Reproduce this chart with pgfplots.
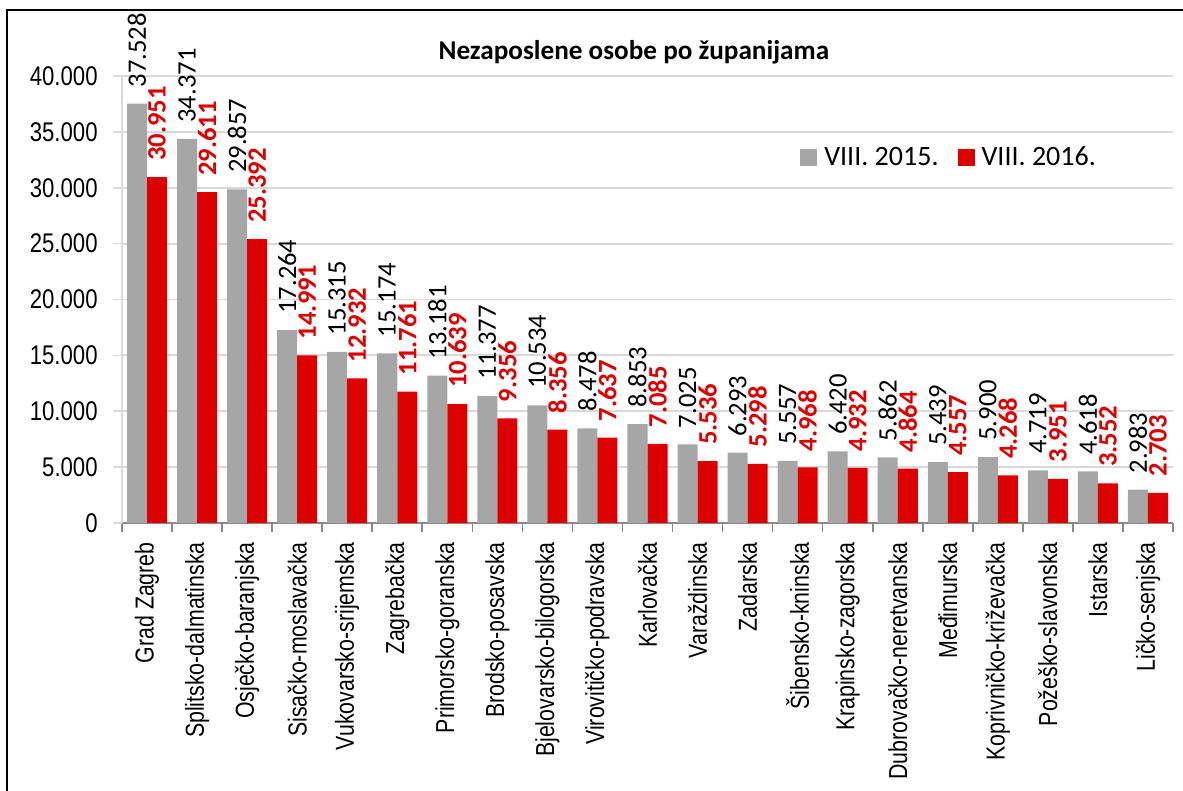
\documentclass[border=0pt]{standalone}
\usepackage{pgfplots}
\pgfplotsset{compat=1.18}
\usepackage{pgfplotstable}
\usepackage{fontspec}
\setmainfont{Carlito}
\newfontfamily\narrow[FakeStretch=0.82]{Liberation Sans}

\definecolor{sivo}{RGB}{166,166,166}
\definecolor{crveno}{RGB}{221,0,0}
\definecolor{mreza}{RGB}{217,217,217}
\definecolor{osx}{RGB}{137,137,137}

% VIII. 2015. (a) i VIII. 2016. (b)
\pgfplotstableread{
x a b
0 37528 30951
1 34371 29611
2 29857 25392
3 17264 14991
4 15315 12932
5 15174 11761
6 13181 10639
7 11377 9356
8 10534 8356
9 8478 7637
10 8853 7085
11 7025 5536
12 6293 5298
13 5557 4968
14 6420 4932
15 5862 4864
16 5439 4557
17 5900 4268
18 4719 3951
19 4618 3552
20 2983 2703
}\podaci

\begin{document}
\begin{tikzpicture}
\useasboundingbox (0,0) rectangle (591.5pt,395.5pt);
\draw[line width=1pt] (3.5pt,0) -- (3.5pt,390.5pt) -- (591.5pt,390.5pt);
\begin{axis}[
    at={(61pt,134pt)}, anchor=south west,
    scale only axis, width=525.5pt, height=223.5pt,
    ybar, clip=false,
    xmin=-0.5, xmax=20.5, ymin=0, ymax=40000,
    enlargelimits=false,
    axis x line=bottom, axis y line=left,
    x axis line style={-, draw=osx, line width=0.9pt},
    y axis line style={-, draw=mreza, line width=0.8pt},
    tick align=outside, major tick length=4.5pt,
    xtick={-0.5,0.5,...,20.5}, xticklabels={},
    xtick style={draw=osx, line width=0.8pt},
    extra x ticks={0,1,...,20},
    extra x tick labels={Grad Zagreb, Splitsko-dalmatinska, Osječko-baranjska, Sisačko-moslavačka, Vukovarsko-srijemska, Zagrebačka, Primorsko-goranska, Brodsko-posavska, Bjelovarsko-bilogorska, Virovitičko-podravska, Karlovačka, Varaždinska, Zadarska, Šibensko-kninska, Krapinsko-zagorska, Dubrovačko-neretvanska, Međimurska, Koprivničko-križevačka, Požeško-slavonska, Istarska, Ličko-senjska},
    extra x tick style={major tick length=0pt, xtick style={draw=none}},
    xticklabel style={rotate=90, anchor=east, inner sep=0pt, font=\narrow\fontsize{13}{15}\selectfont},
    xticklabel shift=9.5pt,
    ytick={0,5000,...,40000},
    scaled y ticks=false,
    ytick style={draw=mreza, line width=0.8pt},
    yticklabel style={inner sep=0pt, font=\narrow\fontsize{13.5}{15}\selectfont,
        /pgf/number format/fixed, /pgf/number format/precision=0,
        /pgf/number format/1000 sep={.}, /pgf/number format/assume math mode=true},
    yticklabel shift=7.5pt,
    ymajorgrids, major grid style={draw=mreza, line width=0.9pt},
    title={Nezaposlene osobe po županijama},
    title style={at={(0.487,1.054)}, anchor=center, yshift=-6pt, font=\bfseries\fontsize{13.6}{15}\selectfont},
    legend columns=2,
    legend image code/.code={\fill[#1] (0pt,-4.25pt) rectangle (8.5pt,4.25pt);},
    legend style={at={(0.786,0.8177)}, anchor=center, draw=none, fill=white,
        inner xsep=7pt, inner ysep=5pt,
        font=\fontsize{14}{16}\selectfont,
        nodes={inner sep=0pt, anchor=west},
        /tikz/every odd column/.append style={column sep=3.5pt},
        /tikz/every even column/.append style={column sep=9.5pt}},
]
\addplot[ybar, fill=sivo, draw=none, bar width=0.4, bar shift=-0.2,
    nodes near coords={\pgfmathprintnumber[fixed, precision=0, 1000 sep={.}, assume math mode=true]{\pgfplotspointmeta}},
    every node near coord/.append style={rotate=90, anchor=west, inner xsep=8pt, inner ysep=0pt,
        text=black, font=\fontsize{13.3}{15}\selectfont}]
    table[x=x, y=a]{\podaci};
\addlegendentry{VIII. 2015.}
\addplot[ybar, fill=crveno, draw=none, bar width=0.4, bar shift=0.2,
    nodes near coords={\pgfmathprintnumber[fixed, precision=0, 1000 sep={.}, assume math mode=true]{\pgfplotspointmeta}},
    every node near coord/.append style={rotate=90, anchor=west, inner xsep=8pt, inner ysep=0pt,
        text=crveno, font=\bfseries\fontsize{13.3}{15}\selectfont}]
    table[x=x, y=b]{\podaci};
\addlegendentry{VIII. 2016.}
\end{axis}
\end{tikzpicture}
\end{document}
